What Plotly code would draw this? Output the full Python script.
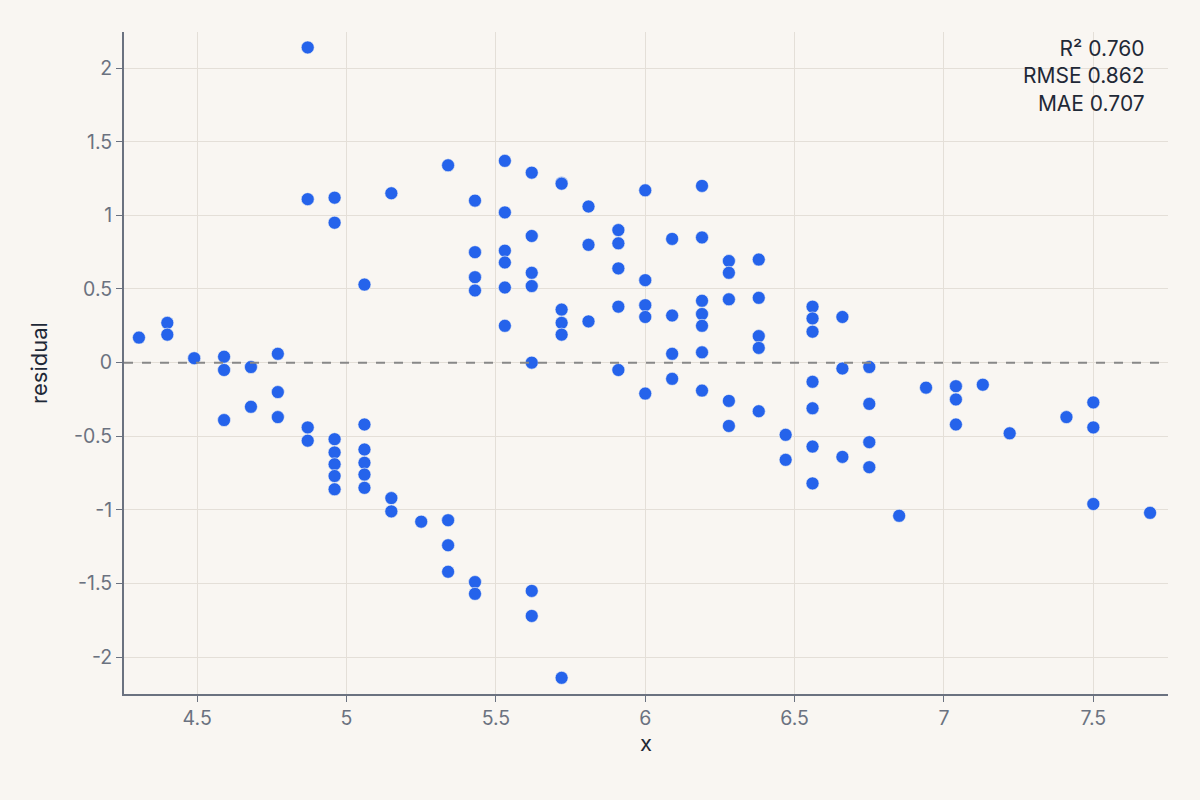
import plotly.graph_objects as go

# residuals
x_vals = [
    4.305,
    4.40, 4.40,
    4.49,
    4.59, 4.59, 4.59,
    4.68, 4.68,
    4.77, 4.77, 4.77,
    4.87, 4.87, 4.87, 4.87,
    4.96, 4.96, 4.96, 4.96, 4.96, 4.96, 4.96,
    5.06, 5.06, 5.06, 5.06, 5.06, 5.06,
    5.15, 5.15, 5.15,
    5.25,
    5.34, 5.34, 5.34, 5.34,
    5.43, 5.43, 5.43, 5.43, 5.43, 5.43,
    5.53, 5.53, 5.53, 5.53, 5.53, 5.53,
    5.62, 5.62, 5.62, 5.62, 5.62, 5.62, 5.62,
    5.72, 5.72, 5.72, 5.72, 5.72, 5.72,
    5.81, 5.81, 5.81,
    5.91, 5.91, 5.91, 5.91, 5.91,
    6.00, 6.00, 6.00, 6.00, 6.00,
    6.09, 6.09, 6.09, 6.09,
    6.19, 6.19, 6.19, 6.19, 6.19, 6.19, 6.19,
    6.28, 6.28, 6.28, 6.28, 6.28,
    6.38, 6.38, 6.38, 6.38, 6.38,
    6.47, 6.47,
    6.56, 6.56, 6.56, 6.56, 6.56, 6.56, 6.56,
    6.66, 6.66, 6.66,
    6.75, 6.75, 6.75, 6.75,
    6.85,
    6.94,
    7.04, 7.04, 7.04,
    7.13,
    7.22,
    7.41,
    7.50, 7.50, 7.50,
    7.69,
]
residuals = [
    0.17,
    0.27, 0.19,
    0.03,
    0.04, -0.05, -0.39,
    -0.03, -0.30,
    0.06, -0.20, -0.37,
    2.14, 1.11, -0.44, -0.53,
    1.12, 0.95, -0.52, -0.61, -0.69, -0.77, -0.86,
    0.53, -0.42, -0.59, -0.68, -0.76, -0.85,
    1.15, -0.92, -1.01,
    -1.08,
    1.34, -1.07, -1.24, -1.42,
    1.10, 0.75, 0.58, 0.49, -1.49, -1.57,
    1.37, 1.02, 0.76, 0.68, 0.51, 0.25,
    1.29, 0.86, 0.61, 0.52, 0.00, -1.55, -1.72,
    1.22, 1.215, 0.36, 0.27, 0.19, -2.14,
    1.06, 0.80, 0.28,
    0.90, 0.81, 0.64, 0.38, -0.05,
    1.17, 0.56, 0.39, 0.31, -0.21,
    0.84, 0.32, 0.06, -0.11,
    1.20, 0.85, 0.42, 0.33, 0.25, 0.07, -0.19,
    0.69, 0.61, 0.43, -0.26, -0.43,
    0.70, 0.44, 0.18, 0.10, -0.33,
    -0.49, -0.66,
    0.38, 0.30, 0.21, -0.13, -0.31, -0.57, -0.82,
    0.31, -0.04, -0.64,
    -0.03, -0.28, -0.54, -0.71,
    -1.04,
    -0.17,
    -0.16, -0.25, -0.42,
    -0.15,
    -0.48,
    -0.37,
    -0.27, -0.44, -0.96,
    -1.02,
]
metric_names = ["R²", "RMSE", "MAE"]
metric_values = [0.760, 0.862, 0.707]

font_family = "Inter, Roboto, sans-serif"
bg = "#f9f6f2"
grid_col = "#e4dfd8"
axis_col = "#6b7280"

fig = go.Figure()
fig.add_trace(go.Scatter(
    x=x_vals,
    y=residuals,
    mode="markers",
    marker=dict(size=13, color="#2563eb", line=dict(width=0.6, color="#f9f6f2")),
    showlegend=False,
))

fig.add_hline(y=0, line=dict(color="#888888", width=2, dash="dash"))

metrics_text = "<br>".join(
    "%s %.3f" % (n, v) for n, v in zip(metric_names, metric_values)
)
fig.add_annotation(
    text=metrics_text,
    xref="paper", yref="paper",
    x=0.98, y=0.997,
    xanchor="right", yanchor="top",
    align="right",
    showarrow=False,
    font=dict(family=font_family, size=21, color="#1f2937"),
)

fig.update_layout(
    width=1200,
    height=800,
    paper_bgcolor=bg,
    plot_bgcolor=bg,
    margin=dict(l=124, r=32, t=32, b=106),
    font=dict(family=font_family, size=19.5, color=axis_col),
)
fig.update_xaxes(
    title=dict(text="x", font=dict(size=22, color="#1f2937"), standoff=4),
    range=[4.255, 7.75],
    tickvals=[4.5, 5, 5.5, 6, 6.5, 7, 7.5],
    ticktext=["4.5", "5", "5.5", "6", "6.5", "7", "7.5"],
    showgrid=True, gridcolor=grid_col, gridwidth=1,
    showline=True, linecolor=axis_col, linewidth=2,
    ticks="outside", ticklen=6, tickcolor=axis_col,
    zeroline=False,
)
fig.update_yaxes(
    title=dict(text="residual", font=dict(size=22, color="#1f2937"), standoff=20),
    range=[-2.25, 2.245],
    tickvals=[-2, -1.5, -1, -0.5, 0, 0.5, 1, 1.5, 2],
    ticktext=["-2", "-1.5", "-1", "-0.5", "0", "0.5", "1", "1.5", "2"],
    showgrid=True, gridcolor=grid_col, gridwidth=1,
    showline=True, linecolor=axis_col, linewidth=2,
    ticks="outside", ticklen=6, tickcolor=axis_col,
    zeroline=False,
)

fig.write_html(
    "out.html",
    config={"displayModeBar": False},
    post_script="document.body.style.margin='0';",
)
